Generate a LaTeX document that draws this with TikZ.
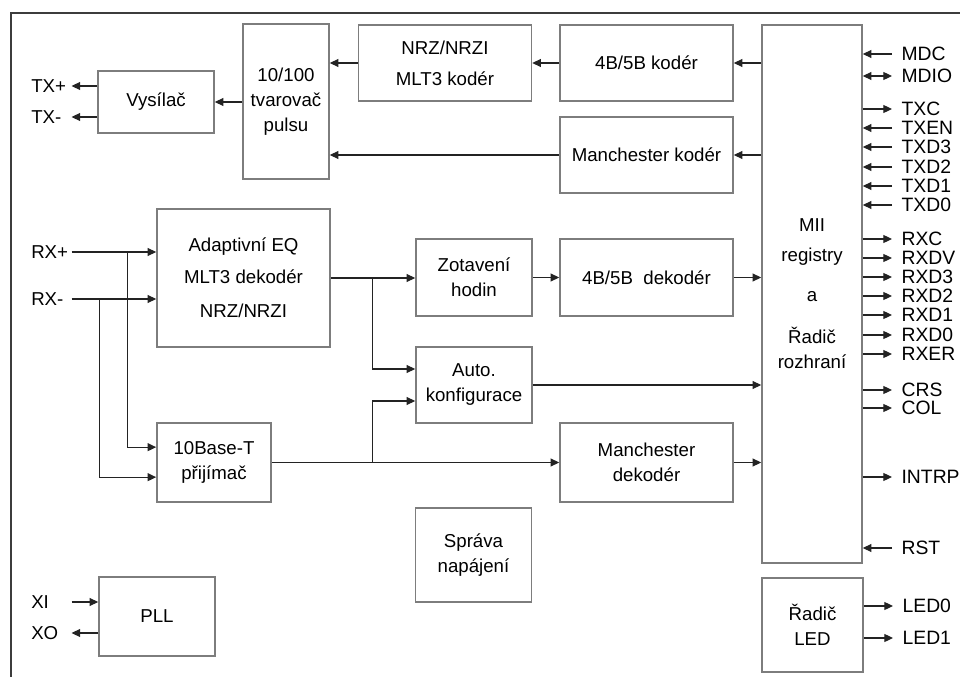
\documentclass[tikz,border=0pt]{standalone}
\usepackage{fontspec}
\setmainfont{Liberation Sans}
\usetikzlibrary{arrows.meta}
\definecolor{ramecgray}{RGB}{60,60,60}
\definecolor{blokgray}{RGB}{125,125,125}
\definecolor{caragray}{RGB}{35,35,35}

\begin{document}
\begin{tikzpicture}[x=0.75pt, y=-0.75pt,
  every node/.style={font=\fontsize{14}{18.75}\selectfont},
  blok/.style={draw=blokgray, line width=1.2pt, align=center, inner sep=2pt},
  siroky/.style={blok, minimum width=129.75pt},
  uzky/.style={blok, minimum width=87pt},
  sipka/.style={-{Triangle[length=6.5pt,width=6pt]}, draw=caragray, line width=0.85pt},
  obousipka/.style={sipka, {Triangle[length=6.5pt,width=6pt]}-{Triangle[length=6.5pt,width=6pt]}},
  sigl/.style={anchor=west, inner sep=0pt, text width=30pt, align=left},
  sigp/.style={anchor=west, inner xsep=7pt, inner ysep=1pt, font=\fontsize{14.5}{18}\selectfont}]

\useasboundingbox (0,0) rectangle (960,677);

% Outer frame (top and left edge only)
\draw[ramecgray, line width=1.5pt] (960,13) -- (11,13) -- (11,677);

% Transmit path
\node[uzky, minimum height=46.5pt] (vysilac) at (156,102) {Vysílač};
\node[blok, minimum width=64.5pt, minimum height=116.25pt] (tvar) at (286,101.5) {10/100\\tvarovač\\pulsu};
\node[siroky, minimum height=57pt] (nrz) at (445,63) {NRZ/NRZI\\[4.5pt]MLT3 kodér};
\node[siroky, minimum height=57pt] (kod4b) at (646.5,63) {4B/5B kodér};
\node[siroky, minimum height=57pt] (mankod) at (646.5,155) {Manchester kodér};

% MII block
\node[blok, minimum width=75pt, minimum height=403.5pt] (mii) at (812,294)
     {MII\\[3.5pt]registry\\[11pt]a\\[13pt]Řadič\\rozhraní};

% Receive path
\node[siroky, minimum height=103.5pt] (adapt) at (243.5,278)
     {Adaptivní EQ\\[5pt]MLT3 dekodér\\[7pt]NRZ/NRZI};
\node[blok, minimum width=85.5pt, minimum height=59.25pt] (prijimac) at (214,462.5) {10Base-T\\přijímač};
\node[uzky, minimum height=57.75pt] (zotav) at (474,277.5) {Zotavení\\hodin};
\node[siroky, minimum height=57.75pt] (dek4b) at (646.5,277.5) {4B/5B~~dekodér};
\node[uzky, minimum height=57pt] (auto) at (474,385) {Auto.\\konfigurace};
\node[siroky, minimum height=59.25pt] (mandek) at (646.5,462.5) {Manchester\\dekodér};

% Other blocks
\node[uzky, minimum height=70.5pt] (sprava) at (473.5,555) {Správa\\napájení};
\node[uzky, minimum height=59.25pt] (pll) at (157,616.5) {PLL};
\node[blok, minimum width=75.75pt, minimum height=70.5pt] (led) at (812.5,625) {Řadič\\LED};

% Left pins
\node[sigl] (txp) at (31,86) {TX+};
\node[sigl] (txm) at (31,117) {TX-};
\node[sigl] (rxp) at (31,252) {RX+};
\node[sigl] (rxm) at (31,299) {RX-};
\node[sigl] (xi) at (31,602) {XI};
\node[sigl] (xo) at (31,633) {XO};

% Right pins
\node[sigp] (mdc) at (892,54) {MDC};
\node[sigp] (mdio) at (892,76) {MDIO};
\node[sigp] (txc) at (892,109) {TXC};
\node[sigp] (txen) at (892,128) {TXEN};
\node[sigp] (txd3) at (892,147) {TXD3};
\node[sigp] (txd2) at (892,167) {TXD2};
\node[sigp] (txd1) at (892,186) {TXD1};
\node[sigp] (txd0) at (892,205) {TXD0};
\node[sigp] (rxc) at (892,239) {RXC};
\node[sigp] (rxdv) at (892,258) {RXDV};
\node[sigp] (rxd3) at (892,277) {RXD3};
\node[sigp] (rxd2) at (892,296) {RXD2};
\node[sigp] (rxd1) at (892,315) {RXD1};
\node[sigp] (rxd0) at (892,335) {RXD0};
\node[sigp] (rxer) at (892,354) {RXER};
\node[sigp] (crs) at (892,390) {CRS};
\node[sigp] (col) at (892,408) {COL};
\node[sigp] (intrp) at (892,477) {INTRP};
\node[sigp] (rst) at (892,548) {RST};
\node[sigp] (led0) at (893,606) {LED0};
\node[sigp] (led1) at (893,638) {LED1};

% Transmit connectors
\draw[sipka] (tvar.west |- vysilac) -- (vysilac.east);
\draw[sipka] (vysilac.west |- txp) -- (txp.east);
\draw[sipka] (vysilac.west |- txm) -- (txm.east);
\draw[sipka] (nrz.west) -- (tvar.east |- nrz.west);
\draw[sipka] (kod4b.west) -- (nrz.east);
\draw[sipka] (mii.west |- kod4b) -- (kod4b.east);
\draw[sipka] (mankod.west) -- (tvar.east |- mankod.west);
\draw[sipka] (mii.west |- mankod) -- (mankod.east);

% Receive connectors
\draw[sipka] (rxp.east) -- (adapt.west |- rxp);
\draw[sipka] (rxm.east) -- (adapt.west |- rxm);
\draw[sipka] ([xshift=42pt]rxp.east) |- ([yshift=11.5pt]prijimac.west);
\draw[sipka] ([xshift=21pt]rxm.east) |- ([yshift=-11pt]prijimac.west);
\draw[sipka] (adapt.east) -- (zotav.west |- adapt.east);
\draw[sipka] ([xshift=31.5pt]adapt.east) |- ([yshift=12pt]auto.west);
\draw[sipka] (prijimac.east) -- (mandek.west);
\draw[sipka] ([xshift=75.75pt]prijimac.east) |- ([yshift=-12pt]auto.west);
\draw[sipka] (zotav.east) -- (dek4b.west);
\draw[sipka] (dek4b.east) -- (mii.west |- dek4b.east);
\draw[sipka] (auto.east) -- (mii.west |- auto.east);
\draw[sipka] (mandek.east) -- (mii.west |- mandek.east);

% PLL
\draw[sipka] (xi.east) -- (pll.west |- xi);
\draw[sipka] (pll.west |- xo) -- (xo.east);

% MII pins
\draw[sipka] (mdc.west) -- (mii.east |- mdc);
\draw[obousipka] (mii.east |- mdio) -- (mdio.west);
\draw[sipka] (mii.east |- txc) -- (txc.west);
\draw[sipka] (txen.west) -- (mii.east |- txen);
\draw[sipka] (txd3.west) -- (mii.east |- txd3);
\draw[sipka] (txd2.west) -- (mii.east |- txd2);
\draw[sipka] (txd1.west) -- (mii.east |- txd1);
\draw[sipka] (txd0.west) -- (mii.east |- txd0);
\draw[sipka] (mii.east |- rxc) -- (rxc.west);
\draw[sipka] (mii.east |- rxdv) -- (rxdv.west);
\draw[sipka] (mii.east |- rxd3) -- (rxd3.west);
\draw[sipka] (mii.east |- rxd2) -- (rxd2.west);
\draw[sipka] (mii.east |- rxd1) -- (rxd1.west);
\draw[sipka] (mii.east |- rxd0) -- (rxd0.west);
\draw[sipka] (mii.east |- rxer) -- (rxer.west);
\draw[sipka] (mii.east |- crs) -- (crs.west);
\draw[sipka] (mii.east |- col) -- (col.west);
\draw[sipka] (mii.east |- intrp) -- (intrp.west);
\draw[sipka] (rst.west) -- (mii.east |- rst);

% LED
\draw[sipka] (led.east |- led0) -- (led0.west);
\draw[sipka] (led.east |- led1) -- (led1.west);

\end{tikzpicture}
\end{document}
